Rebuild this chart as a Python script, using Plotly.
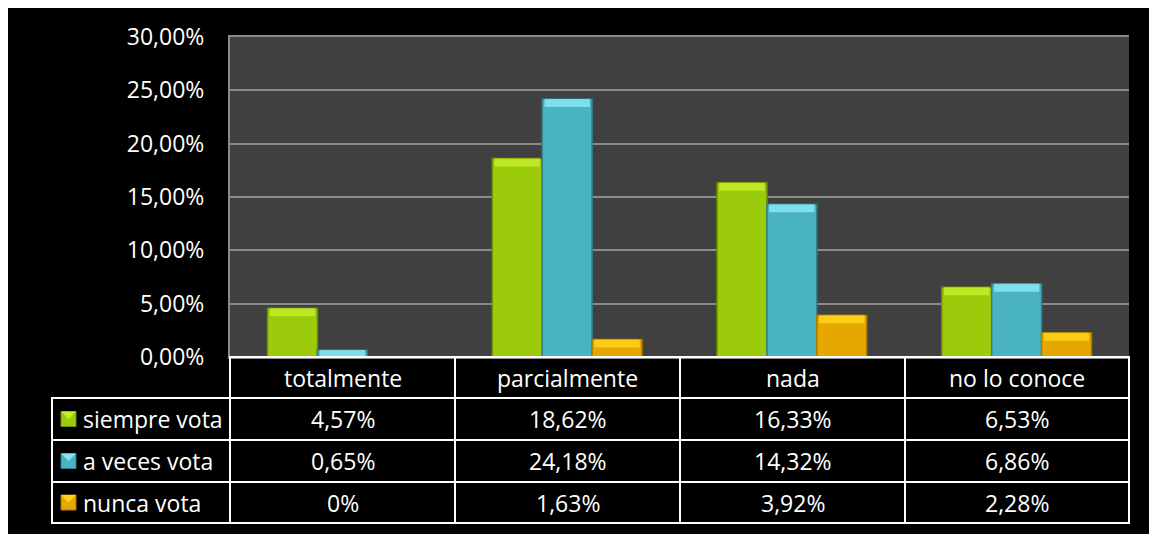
import plotly.graph_objects as go

# the page body keeps an 8px margin, so the figure is drawn 8px smaller
PAGE_W, PAGE_H, BODY = 1157, 534, 8
W, H = PAGE_W - BODY, PAGE_H - BODY

categories = ["totalmente", "parcialmente", "nada", "no lo conoce"]
series_names = ["siempre vota", "a veces vota", "nunca vota"]
siempre_vota = [4.57, 18.62, 16.33, 6.53]
a_veces_vota = [0.65, 24.18, 14.32, 6.86]
nunca_vota = [0, 1.63, 3.92, 2.28]
table_labels = [
    ["4,57%", "18,62%", "16,33%", "6,53%"],
    ["0,65%", "24,18%", "14,32%", "6,86%"],
    ["0%", "1,63%", "3,92%", "2,28%"],
]

series_values = [siempre_vota, a_veces_vota, nunca_vota]
face = ["#9CCB0C", "#4AB3C3", "#E6A800"]
top = ["#C4EE2A", "#86E6F2", "#FFD21A"]
edge = ["#6E9200", "#2E7F8C", "#A87A00"]

# page pixel -> paper coords
def px(x):
    return (x - BODY) / W

def py(y):
    return 1 - (y - BODY) / H

plot_l, plot_r, plot_t, plot_b = 230, 1129, 37, 357
col_x = [230, 455, 680, 905, 1129]
row_y = [357, 398, 440, 482, 523]
leg_l = 52
font = "Open Sans"
fs = 23

fig = go.Figure()
offsets = [-0.333, -0.111, 0.111]
bw = 0.222
band = 0.0075
for i, name in enumerate(series_names):
    vals = [v / 100 for v in series_values[i]]
    fig.add_trace(go.Bar(
        x=categories, y=vals, name=name, offset=offsets[i], width=bw,
        marker=dict(color=face[i], line=dict(color=edge[i], width=1.5)),
        showlegend=False,
    ))
    bh = [min(v, band) for v in vals]
    fig.add_trace(go.Bar(
        x=categories, y=bh, base=[v - b for v, b in zip(vals, bh)],
        offset=offsets[i] + 0.01, width=bw - 0.02,
        marker=dict(color=top[i], line=dict(width=0)), opacity=0.85,
        showlegend=False, hoverinfo="skip",
    ))

shapes = []
annotations = []

wline = dict(color="white", width=2)
# header row
for j, cat in enumerate(categories):
    shapes.append(dict(type="rect", xref="paper", yref="paper",
                       x0=px(col_x[j]), x1=px(col_x[j + 1]), y0=py(row_y[1]), y1=py(row_y[0]),
                       line=wline))
    annotations.append(dict(text=cat, xref="paper", yref="paper", showarrow=False,
                            x=px((col_x[j] + col_x[j + 1]) / 2), y=py((row_y[0] + row_y[1]) / 2),
                            xanchor="center", yanchor="middle",
                            font=dict(color="white", size=fs, family=font)))
# data rows
for i, name in enumerate(series_names):
    y0, y1 = row_y[i + 1], row_y[i + 2]
    shapes.append(dict(type="rect", xref="paper", yref="paper",
                       x0=px(leg_l), x1=px(col_x[0]), y0=py(y1), y1=py(y0), line=wline))
    ym = (y0 + y1) / 2
    shapes.append(dict(type="rect", xref="paper", yref="paper",
                       x0=px(61), x1=px(76), y0=py(ym + 7.5), y1=py(ym - 7.5),
                       fillcolor=face[i], line=dict(color=edge[i], width=1)))
    shapes.append(dict(type="path", xref="paper", yref="paper",
                       path=f"M {px(61)},{py(ym - 7.5)} L {px(76)},{py(ym - 7.5)} L {px(68.5)},{py(ym)} Z",
                       fillcolor=top[i], line=dict(width=0)))
    annotations.append(dict(text=name, xref="paper", yref="paper", showarrow=False,
                            x=px(81), y=py(ym), xanchor="left", yanchor="middle",
                            font=dict(color="white", size=fs, family=font)))
    for j in range(len(categories)):
        shapes.append(dict(type="rect", xref="paper", yref="paper",
                           x0=px(col_x[j]), x1=px(col_x[j + 1]), y0=py(y1), y1=py(y0), line=wline))
        annotations.append(dict(text=table_labels[i][j], xref="paper", yref="paper", showarrow=False,
                                x=px((col_x[j] + col_x[j + 1]) / 2), y=py(ym),
                                xanchor="center", yanchor="middle",
                                font=dict(color="white", size=fs, family=font)))

fig.update_layout(
    width=W, height=H,
    margin=dict(l=0, r=0, t=0, b=0, pad=0),
    paper_bgcolor="black",
    plot_bgcolor="#404040",
    barmode="overlay",
    separators=",.",
    shapes=shapes,
    annotations=annotations,
    xaxis=dict(domain=[px(plot_l), px(plot_r)], showticklabels=False, showgrid=False,
               zeroline=False, fixedrange=True, automargin=False,
               showline=True, linecolor="#8A8A8A", linewidth=2, mirror=True),
    yaxis=dict(domain=[py(plot_b), py(plot_t)], range=[0, 0.30], dtick=0.05, tickformat=".2%",
               gridcolor="#8A8A8A", gridwidth=2, zeroline=False, automargin=False,
               showline=True, linecolor="#8A8A8A", linewidth=2, mirror=False,
               ticklabelstandoff=19,
               tickfont=dict(color="white", size=fs, family=font)),
)

fig.write_html("out.html")
